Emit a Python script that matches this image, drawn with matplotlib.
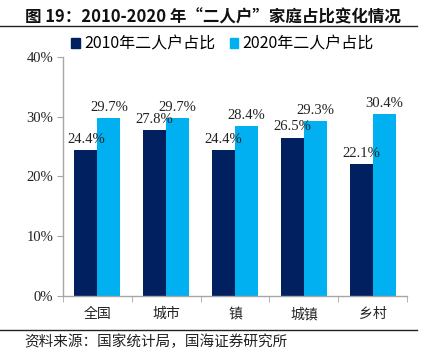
"""Figure 19: share of two-person households, 2010 vs 2020."""
import matplotlib
matplotlib.use("Agg")
import matplotlib.pyplot as plt
import numpy as np
from matplotlib.patches import Patch
from matplotlib.lines import Line2D

plt.rcParams["font.family"] = ["Noto Sans CJK SC", "DejaVu Sans"]

CATEGORIES = ["全国", "城市", "镇", "城镇", "乡村"]
SHARE_2010 = [24.4, 27.8, 24.4, 26.5, 22.1]
SHARE_2020 = [29.7, 29.7, 28.4, 29.3, 30.4]
Y_TICKS = [0, 10, 20, 30, 40]

COLOR_2010 = "#002060"
COLOR_2020 = "#00B0F0"
COLOR_AXIS = "#A6A6A6"
SERIF = ["Liberation Serif", "DejaVu Serif"]


def build():
    fig = plt.figure(figsize=(4.25, 3.6), dpi=100)
    ax = fig.add_axes([0.148, 0.178, 0.81, 0.664])

    x = np.arange(len(CATEGORIES))
    w = 0.335
    ax.bar(x - w / 2, SHARE_2010, width=w, color=COLOR_2010)
    ax.bar(x + w / 2, SHARE_2020, width=w, color=COLOR_2020)

    for xi, v in zip(x - w / 2, SHARE_2010):
        ax.annotate(f"{v:.1f}%", xy=(xi, v), xytext=(0, 3), textcoords="offset points",
                    ha="center", va="bottom", fontsize=10.5, family=SERIF, color="#222222")
    for xi, v in zip(x + w / 2, SHARE_2020):
        ax.annotate(f"{v:.1f}%", xy=(xi, v), xytext=(0, 3), textcoords="offset points",
                    ha="center", va="bottom", fontsize=10.5, family=SERIF, color="#222222")

    ax.set_xlim(-0.5, len(CATEGORIES) - 0.5)
    ax.set_ylim(0, 40)
    ax.set_yticks(Y_TICKS)
    ax.set_yticklabels([f"{t}%" for t in Y_TICKS], family=SERIF, fontsize=10.5, color="#222222")

    ax.set_xticks(x)
    ax.set_xticklabels(CATEGORIES, fontsize=10, color="#222222")
    ax.set_xticks(np.arange(-0.5, len(CATEGORIES)), minor=True)
    ax.tick_params(axis="x", which="major", length=0, pad=8)
    ax.tick_params(axis="x", which="minor", length=4, color=COLOR_AXIS, direction="out")
    ax.tick_params(axis="y", length=4, color=COLOR_AXIS, direction="out", pad=3)

    for side in ["top", "right"]:
        ax.spines[side].set_visible(False)
    for side in ["left", "bottom"]:
        ax.spines[side].set_color(COLOR_AXIS)
        ax.spines[side].set_linewidth(1.0)

    handles = [Patch(color=COLOR_2010), Patch(color=COLOR_2020)]
    fig.legend(handles, ["2010年二人户占比", "2020年二人户占比"],
               loc="center left", bbox_to_anchor=(0.168, 0.878), ncol=2, frameon=False,
               fontsize=11.5, handlelength=0.55, handleheight=0.55, handletextpad=0.25,
               columnspacing=0.9, borderaxespad=0, borderpad=0)

    fig.text(0.058, 0.952, "图 19：2010-2020 年“二人户”家庭占比变化情况",
             fontsize=11.9, fontweight="bold", ha="left", va="center", color="#111111")
    fig.text(0.058, 0.05, "资料来源：国家统计局，国海证券研究所",
             fontsize=10.5, ha="left", va="center", color="#222222")

    fig.add_artist(Line2D([0, 0.982], [0.927, 0.927], transform=fig.transFigure,
                          color="#222222", linewidth=1.0))
    fig.add_artist(Line2D([0, 0.982], [0.082, 0.082], transform=fig.transFigure,
                          color="#222222", linewidth=1.0))

    fig.savefig("out.png", dpi=100)
    plt.close(fig)


if __name__ == "__main__":
    build()
